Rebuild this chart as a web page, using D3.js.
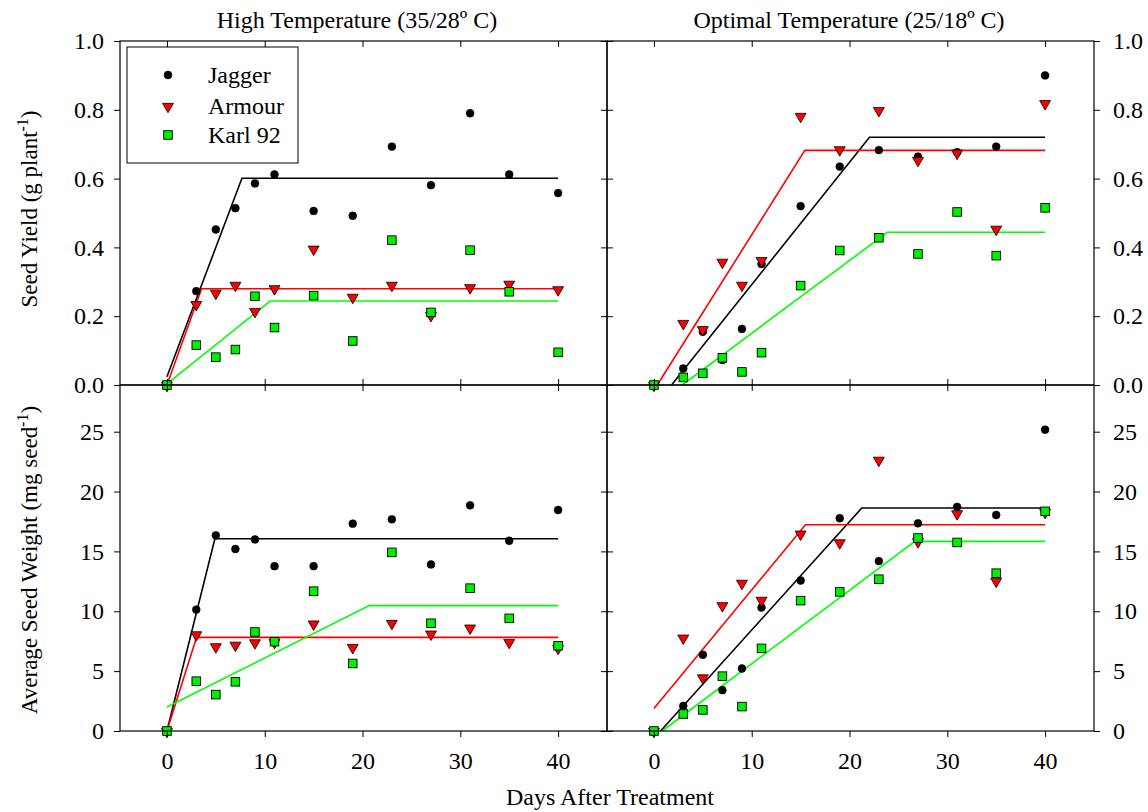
<!DOCTYPE html>
<html>
<head>
<meta charset="utf-8">
<script src="https://cdn.jsdelivr.net/npm/d3@7"></script>
<style>
  html, body { margin: 0; padding: 0; background: #fff; }
  svg { display: block; }
</style>
</head>
<body>
<svg id="chart" width="1148" height="812"></svg>
<script>
const FONT = "'Liberation Serif', 'DejaVu Serif', 'Times New Roman', Times, serif";

// Sampling days after treatment
const days = [0, 3, 5, 7, 9, 11, 15, 19, 23, 27, 31, 35, 40];

const cultivars = ["Jagger", "Armour", "Karl 92"];
const xTicks = [0, 10, 20, 30, 40];
const yieldTicks = [0, 0.2, 0.4, 0.6, 0.8, 1.0];
const weightTicks = [0, 5, 10, 15, 20, 25];

// Seed yield (g plant-1), high temperature
const yieldHighJagger = [0, 0.273, 0.452, 0.514, 0.586, 0.612, 0.506, 0.492, 0.693, 0.581, 0.790, 0.612, 0.558];
const yieldHighArmour = [0, 0.235, 0.268, 0.291, 0.215, 0.281, 0.396, 0.256, 0.291, 0.203, 0.284, 0.294, 0.278];
const yieldHighKarl = [0, 0.116, 0.081, 0.103, 0.258, 0.167, 0.260, 0.128, 0.421, 0.211, 0.392, 0.271, 0.095];

// Seed yield (g plant-1), optimal temperature
const yieldOptJagger = [0, 0.048, 0.155, 0.073, 0.163, 0.352, 0.520, 0.635, 0.683, 0.664, 0.677, 0.693, 0.900];
const yieldOptArmour = [0, 0.180, 0.162, 0.358, 0.291, 0.363, 0.782, 0.685, 0.799, 0.654, 0.675, 0.454, 0.819];
const yieldOptKarl = [0, 0.022, 0.034, 0.079, 0.038, 0.094, 0.289, 0.391, 0.428, 0.381, 0.503, 0.376, 0.515];

// Average seed weight (mg seed-1), high temperature
const weightHighJagger = [0, 10.14, 16.34, 15.2, 16.0, 13.77, 13.77, 17.32, 17.68, 13.91, 18.85, 15.89, 18.46];
const weightHighArmour = [0, 8.07, 7.07, 7.2, 7.4, 7.43, 8.97, 7.01, 9.02, 8.13, 8.63, 7.43, 6.93];
const weightHighKarl = [0, 4.16, 3.04, 4.11, 8.27, 7.46, 11.68, 5.64, 14.92, 9.0, 11.93, 9.41, 7.12];

// Average seed weight (mg seed-1), optimal temperature
const weightOptJagger = [0, 2.09, 6.37, 3.41, 5.22, 10.31, 12.57, 17.77, 14.19, 17.35, 18.72, 18.04, 25.17];
const weightOptArmour = [0, 7.79, 4.47, 10.5, 12.37, 10.95, 16.48, 15.75, 22.65, 15.84, 18.18, 12.54, 18.3];
const weightOptKarl = [0, 1.42, 1.76, 4.58, 2.04, 6.9, 10.89, 11.62, 12.68, 16.12, 15.75, 13.18, 18.35];

// Fitted linear-plateau models: [day, value] at start, breakpoint and end
const fitYieldHighJagger = [[0, 0.024], [7.67, 0.601], [40, 0.601]];
const fitYieldHighArmour = [[0, 0.0], [3.54, 0.280], [40, 0.280]];
const fitYieldHighKarl = [[0, 0.003], [10.56, 0.244], [40, 0.244]];

const fitYieldOptJagger = [[1.80, 0], [22.04, 0.720], [40, 0.720]];
const fitYieldOptArmour = [[0.34, 0], [15.43, 0.682], [40, 0.682]];
const fitYieldOptKarl = [[2.89, 0], [23.88, 0.444], [40, 0.444]];

const fitWeightHighJagger = [[0, 0.0], [4.9, 16.06], [40, 16.06]];
const fitWeightHighArmour = [[0, 0.0], [3.03, 7.82], [40, 7.82]];
const fitWeightHighKarl = [[0, 2.01], [20.7, 10.47], [40, 10.47]];

const fitWeightOptJagger = [[0.68, 0], [21.26, 18.63], [40, 18.63]];
const fitWeightOptArmour = [[0, 1.87], [15.5, 17.23], [40, 17.23]];
const fitWeightOptKarl = [[0.85, 0], [26.68, 15.84], [40, 15.84]];

const colors = { "Jagger": "#000000", "Armour": "#ff0000", "Karl 92": "#00ff00" };
const markFill = { "Jagger": "#000000", "Armour": "#ff0000", "Karl 92": "#00ee00" };

const svg = d3.select("#chart");

const colX = [{ left: 120, right: 607 }, { left: 607, right: 1094 }];
const rowY = [{ top: 41, bottom: 385 }, { top: 385, bottom: 731 }];
const xDomain = [-4.8, 45];
const yDomains = [[0, 1.0], [0, 28.9]];

const panels = [
  { col: 0, row: 0, series: [yieldHighJagger, yieldHighArmour, yieldHighKarl], fits: [fitYieldHighJagger, fitYieldHighArmour, fitYieldHighKarl] },
  { col: 1, row: 0, series: [yieldOptJagger, yieldOptArmour, yieldOptKarl], fits: [fitYieldOptJagger, fitYieldOptArmour, fitYieldOptKarl] },
  { col: 0, row: 1, series: [weightHighJagger, weightHighArmour, weightHighKarl], fits: [fitWeightHighJagger, fitWeightHighArmour, fitWeightHighKarl] },
  { col: 1, row: 1, series: [weightOptJagger, weightOptArmour, weightOptKarl], fits: [fitWeightOptJagger, fitWeightOptArmour, fitWeightOptKarl] }
];

const tickLen = 6;

function drawMarker(g, name, x, y) {
  if (name === "Jagger") {
    g.append("circle").attr("cx", x).attr("cy", y).attr("r", 3.9)
      .attr("fill", markFill[name]).attr("stroke", "#000").attr("stroke-width", 0.6);
  } else if (name === "Armour") {
    g.append("path")
      .attr("d", d3.symbol(d3.symbolTriangle, 52)())
      .attr("transform", `translate(${x},${y + 0.5}) rotate(180)`)
      .attr("fill", markFill[name]).attr("stroke", "#000").attr("stroke-width", 0.8);
  } else {
    const s = 8.6;
    g.append("rect").attr("x", x - s / 2).attr("y", y - s / 2).attr("width", s).attr("height", s)
      .attr("fill", markFill[name]).attr("stroke", "#000").attr("stroke-width", 0.9);
  }
}

panels.forEach(p => {
  const cx = colX[p.col], ry = rowY[p.row];
  const x = d3.scaleLinear().domain(xDomain).range([cx.left, cx.right]);
  const y = d3.scaleLinear().domain(yDomains[p.row]).range([ry.bottom, ry.top]);
  const yTicks = p.row === 0 ? yieldTicks : weightTicks;
  const g = svg.append("g");

  // fitted lines
  p.fits.forEach((f, i) => {
    g.append("path")
      .attr("d", d3.line().x(d => x(d[0])).y(d => y(d[1]))(f))
      .attr("fill", "none").attr("stroke", colors[cultivars[i]]).attr("stroke-width", 1.6);
  });

  // observed points
  p.series.forEach((vals, i) => {
    vals.forEach((v, k) => drawMarker(g, cultivars[i], x(days[k]), y(v)));
  });

  // x axes: top and bottom
  const isBottom = p.row === 1;
  const xTop = d3.axisBottom(x).tickValues(xTicks).tickSize(tickLen).tickFormat("");
  g.append("g").attr("transform", `translate(0,${ry.top})`).call(xTop);
  const xBot = isBottom
    ? d3.axisBottom(x).tickValues(xTicks).tickSize(tickLen).tickPadding(15).tickFormat(d3.format("d"))
    : d3.axisTop(x).tickValues(xTicks).tickSize(tickLen).tickFormat("");
  g.append("g").attr("transform", `translate(0,${ry.bottom})`).call(xBot);

  // y axes: left and right
  const outerLeft = p.col === 0;
  const yFmt = p.row === 0 ? d3.format(".1f") : d3.format("d");
  const yl = outerLeft
    ? d3.axisLeft(y).tickValues(yTicks).tickSize(tickLen).tickPadding(10).tickFormat(yFmt)
    : d3.axisRight(y).tickValues(yTicks).tickSize(tickLen).tickFormat("");
  g.append("g").attr("transform", `translate(${cx.left},0)`).call(yl);
  const yr = outerLeft
    ? d3.axisLeft(y).tickValues(yTicks).tickSize(tickLen).tickFormat("")
    : d3.axisRight(y).tickValues(yTicks).tickSize(tickLen).tickPadding(13).tickFormat(yFmt);
  g.append("g").attr("transform", `translate(${cx.right},0)`).call(yr);

  g.selectAll(".domain").remove();
  g.selectAll("g").attr("font-family", FONT).attr("font-size", 24);
  g.selectAll(".tick line").attr("stroke", "#000").attr("stroke-width", 1);
  g.selectAll(".tick text").attr("fill", "#000");

  // frame
  g.append("rect").attr("x", cx.left).attr("y", ry.top)
    .attr("width", cx.right - cx.left).attr("height", ry.bottom - ry.top)
    .attr("fill", "none").attr("stroke", "#000").attr("stroke-width", 1.2);
});

function label(sel) {
  return sel.attr("font-family", FONT).attr("fill", "#000");
}

// panel titles
label(svg.append("text")).attr("x", 357).attr("y", 28).attr("text-anchor", "middle")
  .attr("font-size", 24).text("High Temperature (35/28º C)");
label(svg.append("text")).attr("x", 849).attr("y", 28).attr("text-anchor", "middle")
  .attr("font-size", 24).text("Optimal Temperature (25/18º C)");

// axis titles
const yl1 = label(svg.append("text")).attr("transform", "translate(37,209) rotate(-90)")
  .attr("text-anchor", "middle").attr("font-size", 23);
yl1.append("tspan").text("Seed Yield (g plant");
yl1.append("tspan").attr("dy", -9).attr("font-size", 16).text("-1");
yl1.append("tspan").attr("dy", 9).text(")");

const yl2 = label(svg.append("text")).attr("transform", "translate(37,560) rotate(-90)")
  .attr("text-anchor", "middle").attr("font-size", 23);
yl2.append("tspan").text("Average Seed Weight (mg seed");
yl2.append("tspan").attr("dy", -9).attr("font-size", 16).text("-1");
yl2.append("tspan").attr("dy", 9).text(")");

label(svg.append("text")).attr("x", 610).attr("y", 805).attr("text-anchor", "middle")
  .attr("font-size", 24).text("Days After Treatment");

// legend
const lg = svg.append("g");
lg.append("rect").attr("x", 127).attr("y", 47).attr("width", 171).attr("height", 116)
  .attr("fill", "#fff").attr("stroke", "#000").attr("stroke-width", 1);
const legRows = [75, 106, 135];
cultivars.forEach((c, i) => {
  drawMarker(lg, c, 168, legRows[i]);
  label(lg.append("text")).attr("x", 208).attr("y", legRows[i] + 8)
    .attr("font-size", 24).text(c);
});
</script>
</body>
</html>
